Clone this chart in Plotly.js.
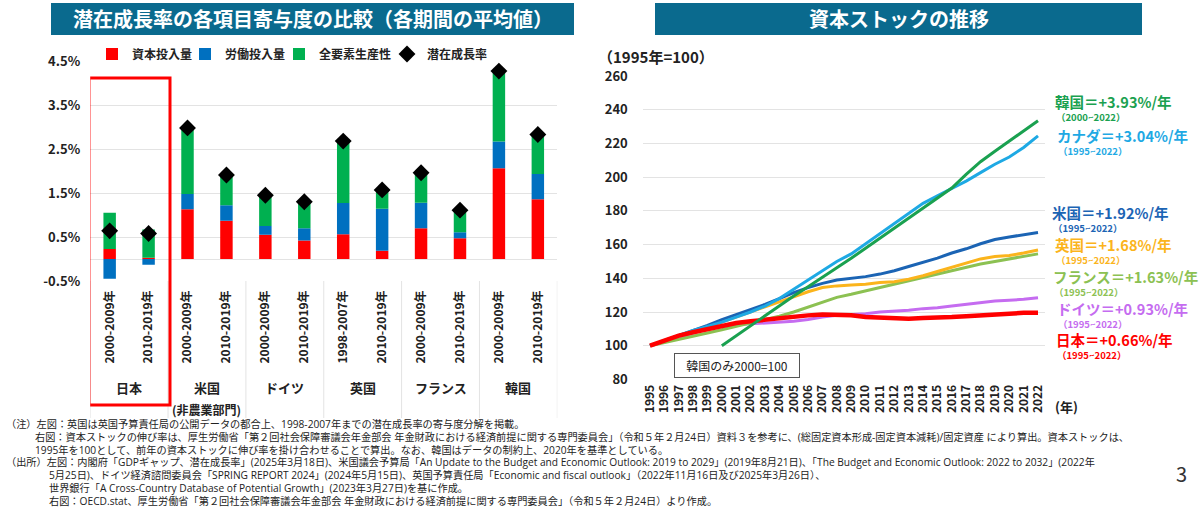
<!DOCTYPE html>
<html>
<head>
<meta charset="utf-8">
<script src="https://cdn.plot.ly/plotly-3.0.1.min.js"></script>
<style>
  html, body { margin: 0; padding: 0; background: #fff; }
  #chart { width: 1200px; height: 507px; }
</style>
</head>
<body>
<div id="chart"></div>
<script>
// ---- left chart: contribution to potential growth (%) ----
const barGroups = ["日本", "日本", "米国", "米国", "ドイツ", "ドイツ", "英国", "英国", "フランス", "フランス", "韓国", "韓国"]
const barPeriods = ["2000-2009年", "2010-2019年", "2000-2009年", "2010-2019年", "2000-2009年", "2010-2019年",
                    "1998-2007年", "2010-2019年", "2000-2009年", "2010-2019年", "2000-2009年", "2010-2019年"]
const capital = [0.23, 0.03, 1.13, 0.87, 0.55, 0.42, 0.56, 0.19, 0.70, 0.47, 2.06, 1.36]
const labor = [-0.45, -0.13, 0.35, 0.35, 0.20, 0.28, 0.71, 0.95, 0.58, 0.14, 0.61, 0.57]
const tfp = [0.82, 0.64, 1.52, 0.67, 0.67, 0.58, 1.40, 0.41, 0.67, 0.49, 1.59, 0.89]
const potential = [0.64, 0.58, 2.98, 1.91, 1.45, 1.30, 2.68, 1.57, 1.96, 1.11, 4.27, 2.83]
const pctTicks = [-0.5, 0.5, 1.5, 2.5, 3.5, 4.5]
const pctTickText = ["-0.5%", "0.5%", "1.5%", "2.5%", "3.5%", "4.5%"]

// ---- right chart: capital stock (1995 = 100) ----
const years = ["1995", "1996", "1997", "1998", "1999", "2000", "2001", "2002", "2003", "2004",
               "2005", "2006", "2007", "2008", "2009", "2010", "2011", "2012", "2013", "2014",
               "2015", "2016", "2017", "2018", "2019", "2020", "2021", "2022"]
const japan = [100, 103, 106, 108, 110, 112, 113.5, 114.5, 115.5, 116.5, 117, 118, 118.5, 118.5,
               118, 117, 116.5, 116, 116, 116.5, 116.5, 117, 117.5, 118, 119, 119, 119.5, 119.5]
const germany = [100, 102.5, 105, 107.5, 110, 111.5, 112.5, 113, 113.5, 114, 114.5, 115.5, 117, 118,
                 118.5, 119, 120, 120.5, 121, 122, 122.5, 123.5, 124.5, 125.5, 126.5, 127, 127.5, 128.5]
const france = [100, 101.8, 103.7, 105.6, 107.5, 109.5, 111.5, 113.5, 115.5, 117.5, 120, 123, 126, 128.7,
                130.5, 132.5, 134.5, 136.5, 138.5, 140.5, 142.5, 144.5, 146.5, 148.5, 150, 151.5, 153, 154.5]
const uk = [100, 103, 106, 108.5, 111, 114, 117, 120, 123, 126, 129, 132, 134.5, 135.5,
            136, 136.5, 137.5, 138, 139.5, 141.5, 144, 146.5, 149, 151.5, 153, 153.5, 155, 156.8]
const us = [100, 103, 106, 109, 112, 115.5, 118.5, 121.5, 124.5, 128, 131.5, 134.5, 137, 139,
            140, 141, 142.5, 144.5, 147, 149.5, 152, 155, 157.5, 160.5, 163, 164.5, 166, 167.2]
const canada = [100, 103, 106, 109, 111.5, 114, 117, 120, 123.5, 128, 133.5, 139, 145, 150,
                154.5, 160.5, 166.5, 172.5, 178.5, 184.5, 189, 193.4, 197.7, 202.7, 207.7, 212, 217.6, 224.5]
const korea = [null, null, null, null, null, 100, 106, 112, 118, 124, 129.5, 135, 140.5, 146,
               151.9, 157.8, 163.7, 169.7, 175.7, 181.7, 187.6, 193.6, 201.7, 209.2, 215.4, 221.4, 227.5, 233.5]

const lineLabels = ["韓国＝+3.93%/年", "カナダ＝+3.04%/年", "米国＝+1.92%/年", "英国＝+1.68%/年",
                    "フランス＝+1.63%/年", "ドイツ＝+0.93%/年", "日本＝+0.66%/年"]
const lineSpans = ["（2000~2022）", "（1995~2022）", "（1995~2022）", "（1995~2022）",
                   "（1995~2022）", "（1995~2022）", "（1995~2022）"]

const notes = [
    "（注）左図：英国は英国予算責任局の公開データの都合上、1998-2007年までの潜在成長率の寄与度分解を掲載。",
    "右図：資本ストックの伸び率は、厚生労働省「第２回社会保障審議会年金部会 年金財政における経済前提に関する専門委員会」（令和５年２月24日）資料３を参考に、(総固定資本形成-固定資本減耗)/固定資産 により算出。資本ストックは、",
    "1995年を100として、前年の資本ストックに伸び率を掛け合わせることで算出。なお、韓国はデータの制約上、2020年を基準としている。",
    "（出所）左図：内閣府「GDPギャップ、潜在成長率」(2025年3月18日)、米国議会予算局「An Update to the Budget and Economic Outlook: 2019 to 2029」(2019年8月21日)、「The Budget and Economic Outlook: 2022 to 2032」(2022年",
    "5月25日)、ドイツ経済諮問委員会「SPRING REPORT 2024」(2024年5月15日)、英国予算責任局「Economic and fiscal outlook」（2022年11月16日及び2025年3月26日）、",
    "世界銀行「A Cross-Country Database of Potential Growth」(2023年3月27日)を基に作成。",
    "右図：OECD.stat、厚生労働省「第２回社会保障審議会年金部会 年金財政における経済前提に関する専門委員会」（令和５年２月24日）より作成。",
]

const FONT = "Noto Sans CJK JP, sans-serif"
const NOTE_FONT = "Open Sans, Noto Sans CJK JP, sans-serif"
const W = 1200, H = 507
const px = v => v / W
const py = v => (H - v) / H

const barKeys = barGroups.map((g, i) => g + barPeriods[i])

const traces = [
    {type: "bar", name: "資本投入量", x: barKeys, y: capital, marker: {color: "#ff0000"},
     xaxis: "x", yaxis: "y", legendwidth: 48},
    {type: "bar", name: "労働投入量", x: barKeys, y: labor, marker: {color: "#0070c0"},
     xaxis: "x", yaxis: "y", legendwidth: 49},
    {type: "bar", name: "全要素生産性", x: barKeys, y: tfp, marker: {color: "#00b050"},
     xaxis: "x", yaxis: "y", legendwidth: 63},
    {type: "scatter", mode: "markers", name: "潜在成長率", x: barKeys, y: potential,
     marker: {symbol: "diamond", size: 13, color: "#000"}, xaxis: "x", yaxis: "y", legendwidth: 60},
]

const lines = [
    [germany, "#c56cf0", 3],
    [france, "#8cc152", 3],
    [uk, "#fbb41c", 3],
    [us, "#1b64b4", 3],
    [canada, "#1ea9e4", 3],
    [japan, "#ff0000", 4.5],
    [korea, "#1aa150", 3],
]
lines.forEach(([vals, color, width]) => {
    traces.push({
        type: "scatter", mode: "lines", x: years, y: vals, xaxis: "x2", yaxis: "y2",
        line: {color: color, width: width}, showlegend: false, connectgaps: false,
    })
})

const annotations = []
const shapes = []

// every free text is placed by its centre line
function note(x, y, text, font, extra) {
    annotations.push(Object.assign({xref: "paper", yref: "paper", x: px(x), y: py(y), text: text,
                                    showarrow: false, xanchor: "left", yanchor: "middle",
                                    font: Object.assign({family: FONT, color: "#222"}, font)}, extra || {}))
}

// title banners
const banners = [
    ["潜在成長率の各項目寄与度の比較（各期間の平均値）", 51, 574],
    ["資本ストックの推移", 655, 1142],
]
banners.forEach(([text, x0, x1]) => {
    shapes.push({type: "rect", xref: "paper", yref: "paper", x0: px(x0), x1: px(x1), y0: py(35), y1: py(3),
                 fillcolor: "#0a6a8e", line: {width: 0}, layer: "below"})
    note((x0 + x1) / 2, 19, text, {size: 20, color: "#fff", weight: "bold"}, {xanchor: "center"})
})

// group labels + separators under the bar chart
const groupNames = ["日本", "米国", "ドイツ", "英国", "フランス", "韓国"]
groupNames.forEach((g, i) => {
    annotations.push({xref: "x", yref: "paper", x: i * 2 + 0.5, y: py(387), text: g, showarrow: false,
                      xanchor: "center", yanchor: "middle",
                      font: {family: FONT, size: 13, color: "#222", weight: "bold"}})
})
annotations.push({xref: "x", yref: "paper", x: 2.5, y: py(409), text: "(非農業部門)", showarrow: false,
                  xanchor: "center", yanchor: "middle",
                  font: {family: FONT, size: 12, color: "#222", weight: "bold"}})
for (let i = 0; i <= groupNames.length; i++) {
    shapes.push({type: "line", xref: "x", yref: "paper", x0: i * 2 - 0.5, x1: i * 2 - 0.5, y0: py(281), y1: py(418),
                 line: {color: "#e3e3e3", width: 1}})
}
shapes.push({type: "rect", xref: "x", yref: "paper", x0: -0.53, x1: 1.55, y0: py(405), y1: py(78),
             line: {color: "#ff0000", width: 3}})

// right chart labels
const labelColors = ["#1aa150", "#1ea9e4", "#1b64b4", "#fbb41c", "#8cc152", "#c56cf0", "#ff0000"]
const labelY = [101.5, 135.5, 212.5, 244.5, 276.5, 308, 339.5]
const labelX = [1053, 1055, 1050, 1053, 1051, 1055, 1054]
lineLabels.forEach((t, i) => {
    note(labelX[i], labelY[i], t, {size: 14.5, color: labelColors[i], weight: "bold"})
    note(labelX[i] + 1, labelY[i] + 15.5, lineSpans[i], {size: 9.5, color: labelColors[i], weight: "bold"})
})
note(596, 56, "（1995年=100）", {size: 15, weight: "bold"})
note(1053, 406, "(年)", {size: 13, weight: "bold"})
note(737, 365, "韓国のみ2000=100", {size: 12}, {xanchor: "center", bordercolor: "#555", borderwidth: 1,
                                              borderpad: 3, bgcolor: "#fff", width: 118})

// footnotes
const noteX = [4, 33, 33, 4, 47, 47, 47]
notes.forEach((t, i) => note(noteX[i], 424 + i * 12.8, t, {family: NOTE_FONT, size: 10.2}))
note(1181, 473, "3", {size: 20, color: "#333"}, {xanchor: "center"})

Plotly.newPlot(
    document.getElementById("chart"),
    traces,
    {
        width: W,
        height: H,
        margin: {l: 0, r: 0, t: 0, b: 0},
        paper_bgcolor: "#fff",
        plot_bgcolor: "#fff",
        barmode: "relative",
        bargap: 0.68,
        font: {family: FONT, color: "#222"},
        showlegend: true,
        legend: {
            orientation: "h",
            x: px(92),
            y: py(54),
            xanchor: "left",
            yanchor: "middle",
            font: {family: FONT, size: 12, color: "#222", weight: "bold"},
            itemwidth: 30,
            bgcolor: "rgba(0,0,0,0)",
        },
        xaxis: {
            domain: [px(90.2), px(557.3)],
            type: "category",
            range: [-0.5, 11.5],
            tickvals: barKeys,
            ticktext: barPeriods,
            tickangle: -90,
            ticks: "",
            ticklabelstandoff: 6,
            tickfont: {family: FONT, size: 12, color: "#222", weight: "bold"},
            showgrid: false,
            showline: false,
            fixedrange: true,
        },
        yaxis: {
            domain: [py(281), py(61)],
            range: [-0.5, 4.5],
            tickvals: pctTicks,
            ticktext: pctTickText,
            ticks: "",
            ticklabelstandoff: 9,
            tickfont: {family: FONT, size: 13, color: "#222", weight: "bold"},
            gridcolor: "#e3e3e3",
            zeroline: true,
            zerolinecolor: "#e3e3e3",
            zerolinewidth: 1,
            showline: false,
            fixedrange: true,
        },
        xaxis2: {
            domain: [px(642.8), px(1045.2)],
            type: "category",
            range: [-0.5, 27.5],
            tickangle: -90,
            ticks: "",
            ticklabelstandoff: 2,
            tickfont: {family: FONT, size: 12, color: "#222", weight: "bold"},
            showgrid: false,
            showline: false,
            anchor: "y2",
            fixedrange: true,
        },
        yaxis2: {
            domain: [py(379.4), py(76.1)],
            range: [80, 260],
            dtick: 20,
            ticks: "",
            ticklabelstandoff: 14,
            tickfont: {family: FONT, size: 13, color: "#222", weight: "bold"},
            gridcolor: "#e3e3e3",
            zeroline: false,
            showline: false,
            anchor: "x2",
            fixedrange: true,
        },
        shapes: shapes,
        annotations: annotations,
    },
    {displayModeBar: false, staticPlot: true}
)
</script>
</body>
</html>
